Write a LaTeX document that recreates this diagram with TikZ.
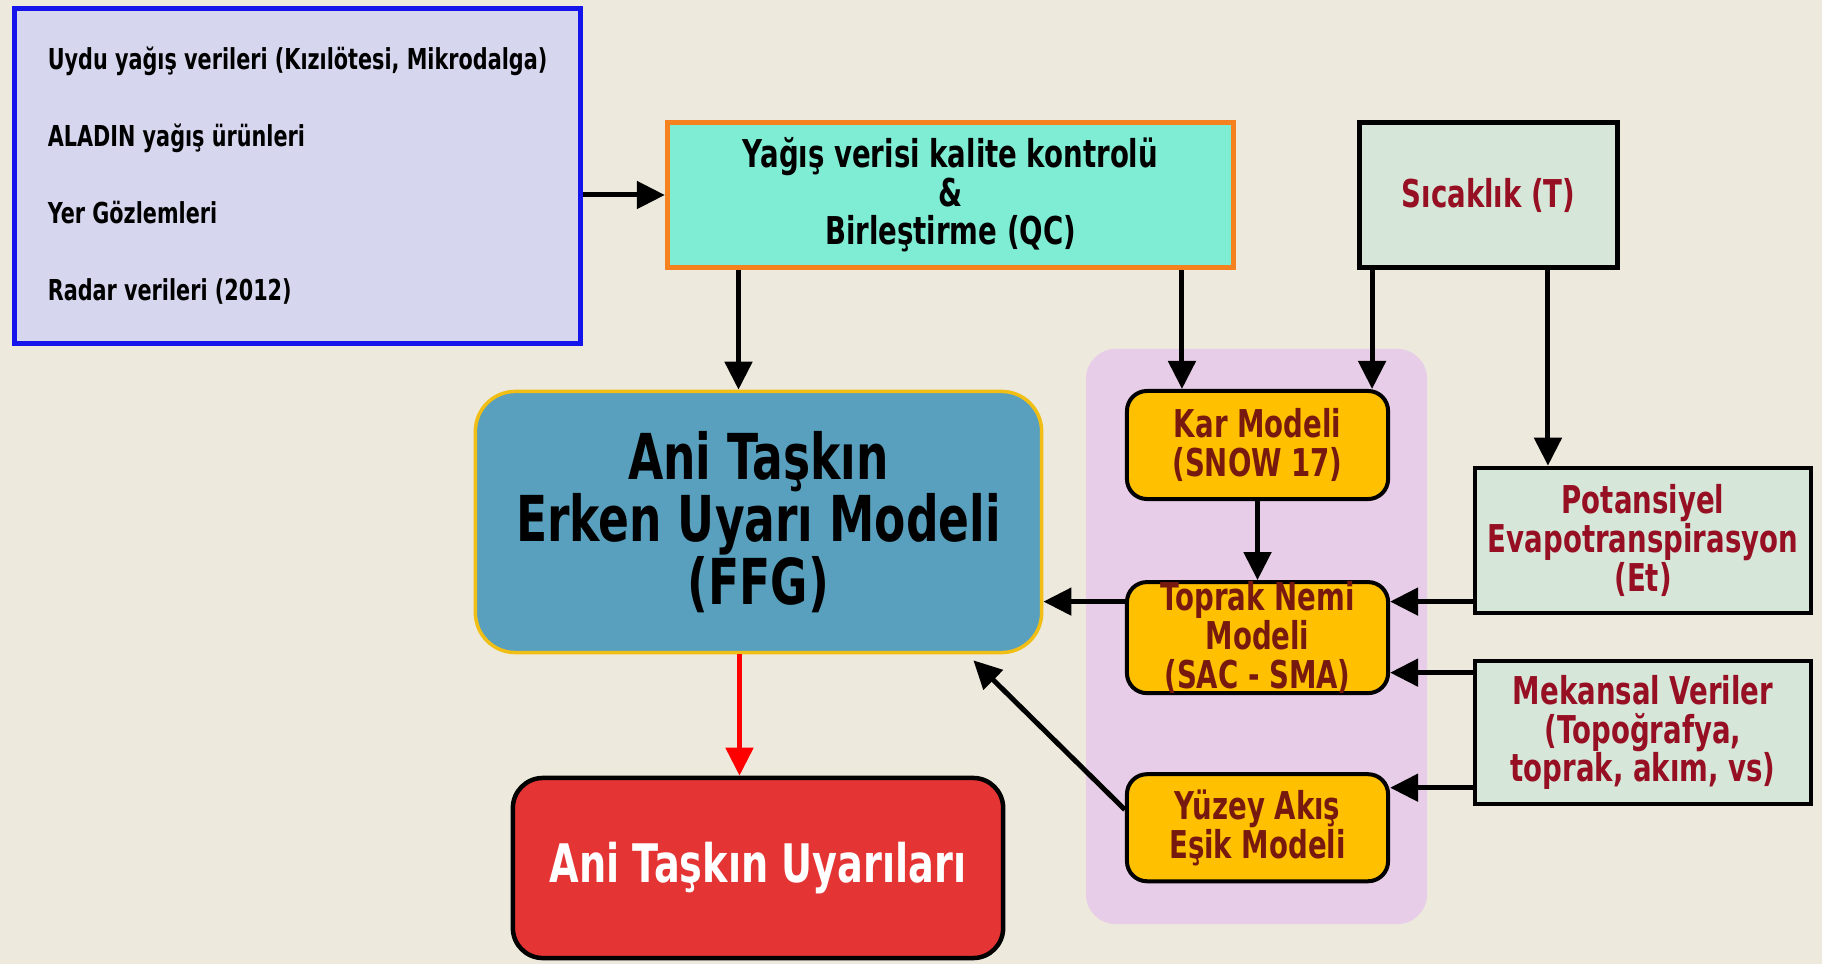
\documentclass[tikz,border=0pt]{standalone}
\usepackage{fontspec}
\setmainfont[FakeStretch=0.72]{DejaVu Sans}
\usepackage{tikz}
\usetikzlibrary{arrows.meta, positioning}

\definecolor{zemin}{RGB}{237,234,221}
\definecolor{kaynakdolgu}{RGB}{214,214,238}
\definecolor{kaynakcizgi}{RGB}{20,20,235}
\definecolor{qcdolgu}{RGB}{127,236,212}
\definecolor{qccizgi}{RGB}{245,130,30}
\definecolor{veridolgu}{RGB}{214,230,216}
\definecolor{koyukirmizi}{RGB}{150,15,35}
\definecolor{ffgdolgu}{RGB}{88,160,190}
\definecolor{ffgcizgi}{RGB}{240,190,20}
\definecolor{uyaridolgu}{RGB}{228,52,52}
\definecolor{grupdolgu}{RGB}{231,205,232}
\definecolor{modeldolgu}{RGB}{255,192,0}
\definecolor{modelyazi}{RGB}{120,25,15}

\begin{document}
\begin{tikzpicture}[x=0.01cm, y=-0.01cm, font=\bfseries]
		\tikzstyle{kaynak} = [rectangle, draw=kaynakcizgi, line width=0.5mm, fill=kaynakdolgu, minimum width=5.66cm, minimum height=3.35cm, align=left, font=\bfseries\fontsize{8.2}{21.9}\selectfont]
		
		\tikzstyle{kontrol} = [rectangle, draw=qccizgi, line width=0.5mm, fill=qcdolgu, minimum width=5.66cm, minimum height=1.45cm, align=center, inner ysep=-4pt, font=\bfseries\fontsize{10.9}{11}\selectfont]
		
		\tikzstyle{veri} = [rectangle, draw=black, line width=0.45mm, fill=veridolgu, text=koyukirmizi, align=center, inner xsep=1pt, inner ysep=-4pt, font=\bfseries\fontsize{10.9}{11}\selectfont]
		
		\tikzstyle{model} = [rectangle, rounded corners=0.2cm, draw=black, line width=0.4mm, fill=modeldolgu, text=modelyazi, minimum width=2.61cm, align=center, inner xsep=1pt, inner ysep=-5pt, font=\bfseries\fontsize{10.9}{11}\selectfont]
		
		\tikzstyle{arrow} = [-{Triangle[length=2.8mm, width=2.7mm]}, line width=0.5mm]
		
		% zemin
		\fill[zemin] (0,0) rectangle (1822,964);
		\useasboundingbox (0,0) rectangle (1822,964);
		
		% Girdi kutulari
		\node (src) [kaynak] at (297.5,176) {Uydu yağış verileri (Kızılötesi, Mikrodalga)\\ALADIN yağış ürünleri\\Yer Gözlemleri\\Radar verileri (2012)};
		\node (qc) [kontrol] at (950.5,195) {Yağış verisi kalite kontrolü\\\&\\Birleştirme (QC)};
		\node (sic) [veri, minimum width=2.58cm, minimum height=1.45cm] at (1488.5,195) {Sıcaklık (T)};
		
		% Ana model
		\node (ffg) [rectangle, rounded corners=0.4cm, draw=ffgcizgi, line width=0.35mm, fill=ffgdolgu, minimum width=5.66cm, minimum height=2.61cm, align=center, font=\bfseries\fontsize{18}{17.8}\selectfont] at (758.5,522) {Ani Taşkın\\Erken Uyarı Modeli\\(FFG)};
		\node (warn) [rectangle, rounded corners=0.3cm, draw=black, line width=0.45mm, fill=uyaridolgu, text=white, minimum width=4.9cm, minimum height=1.8cm, font=\bfseries\fontsize{15.1}{16}\selectfont] at (758,868) {Ani Taşkın Uyarıları};
		
		% Alt modeller
		\node (grup) [rectangle, rounded corners=0.3cm, fill=grupdolgu, minimum width=3.41cm, minimum height=5.75cm] at (1256.5,636.5) {};
		\node (kar) [model, minimum height=1.08cm] at (1257.5,445) {Kar Modeli\\(SNOW 17)};
		\node (top) [model, minimum height=1.11cm, below=0.79cm of kar] {Toprak Nemi\\Modeli\\(SAC - SMA)};
		\node (yuz) [model, minimum height=1.07cm, below=0.77cm of top] {Yüzey Akış\\Eşik Modeli};
		
		% Diger veriler
		\node (pot) [veri, minimum width=3.36cm, minimum height=1.45cm] at (1643,540.5) {Potansiyel\\Evapotranspirasyon\\(Et)};
		\node (mek) [veri, minimum width=3.36cm, minimum height=1.43cm] at (1643,732.5) {Mekansal Veriler\\(Topoğrafya,\\toprak, akım, vs)};
		
		% Arrows
		\draw [arrow] (src.east |- qc.west) -- (qc.west);
		\draw [arrow] ([xshift=-0.2cm]ffg.north |- qc.south) -- ([xshift=-0.2cm]ffg.north);
		\draw [arrow] ([xshift=0.57cm]kar.north west |- qc.south) -- ([xshift=0.57cm]kar.north west);
		\draw [arrow] ([xshift=-0.18cm]kar.north east |- sic.south) -- ([xshift=-0.18cm]kar.north east);
		\draw [arrow] ([xshift=-0.95cm]pot.north |- sic.south) -- ([xshift=-0.95cm]pot.north);
		\draw [arrow] (kar.south) -- (top.north);
		\draw [arrow] ([yshift=0.36cm]top.west) -- ([yshift=0.36cm]top.west -| ffg.east);
		\draw [arrow] ([yshift=0.36cm]top.east -| pot.west) -- ([yshift=0.36cm]top.east);
		\draw [arrow] ([yshift=-0.35cm]top.east -| mek.west) -- ([yshift=-0.35cm]top.east);
		\draw [arrow] ([yshift=0.4cm]yuz.east -| mek.west) -- ([yshift=0.4cm]yuz.east);
		\draw [arrow] ([yshift=0.18cm]yuz.west) -- ([xshift=-0.7cm, yshift=-0.06cm]ffg.south east);
		\draw [arrow, red] ([xshift=-0.19cm]ffg.south) -- ([xshift=-0.19cm]ffg.south |- warn.north);
		\end{tikzpicture}
\end{document}
